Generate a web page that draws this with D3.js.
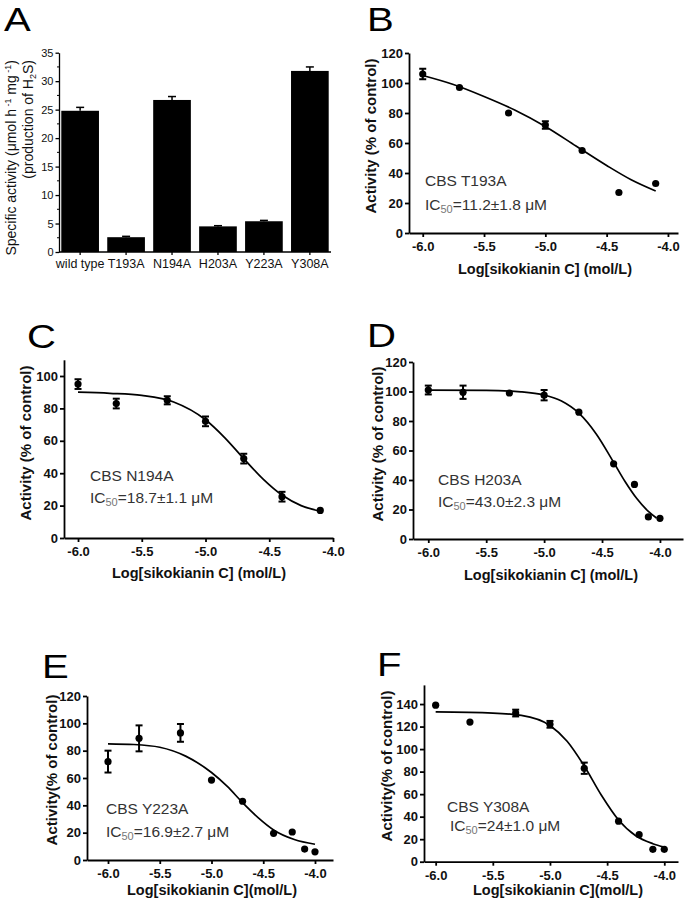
<!DOCTYPE html>
<html><head><meta charset="utf-8">
<script src="https://cdn.jsdelivr.net/npm/d3@7"></script>
<style>
body{margin:0;background:#fff}
svg{display:block}
text{font-family:"Liberation Sans",Arial,Helvetica,sans-serif}
</style>
</head><body>
<svg id="chart" width="690" height="905"></svg>
<script>
// ---------------- DATA ----------------
// Panel A (bar chart)
const barCategories = ["wild type", "T193A", "N194A", "H203A", "Y223A", "Y308A"];
const barValues = [24.8, 2.6, 26.7, 4.5, 5.4, 31.8];
const barErrors = [0.6, 0.15, 0.6, 0.12, 0.15, 0.7];
const barTicks = [0, 5, 10, 15, 20, 25, 30, 35];

// Shared x ticks for dose-response panels
const doseTicks = [-6.0, -5.5, -5.0, -4.5, -4.0];

// Panel B  CBS T193A
const bDose = [-6.0, -5.7, -5.3, -5.0, -4.7, -4.4, -4.1];
const bActivity = [106, 97, 80, 72, 55, 27, 33];
const bSem = [3.5, 0, 0, 2.5, 0, 0, 0];
const bFitDose = [-6.0, -5.75, -5.5, -5.25, -5.0, -4.75, -4.5, -4.3, -4.1];
const bFitActivity = [105, 99, 91, 82, 71, 58, 45, 35.5, 28];
const bYTicks = [0, 20, 40, 60, 80, 100, 120];

// Panel C  CBS N194A
const cDose = [-6.0, -5.7, -5.3, -5.0, -4.7, -4.4, -4.1];
const cActivity = [95, 83, 85, 72, 49, 25.5, 17];
const cSem = [3, 3, 2.5, 3, 3, 3, 0];
const cFitDose = [-6.0, -5.75, -5.5, -5.25, -5.0, -4.85, -4.7, -4.55, -4.4, -4.25, -4.1];
const cFitActivity = [90, 89.3, 88, 84, 73, 62, 49, 36.5, 26.5, 20, 16.5];
const cYTicks = [0, 20, 40, 60, 80, 100];

// Panel D  CBS H203A
const dDose = [-6.0, -5.7, -5.3, -5.0, -4.7, -4.4, -4.22, -4.1, -4.0];
const dActivity = [101, 99.5, 99, 97.5, 86, 51, 37, 15, 14];
const dSem = [3, 4.5, 0, 3.5, 0, 0, 0, 0, 0];
const dFitDose = [-6.0, -5.5, -5.2, -5.0, -4.85, -4.7, -4.55, -4.4, -4.3, -4.2, -4.1, -4.03];
const dFitActivity = [101, 100.8, 99.8, 97.6, 93.5, 85.3, 71.2, 52, 38.8, 27.4, 18.7, 14.2];
const dYTicks = [0, 20, 40, 60, 80, 100, 120];

// Panel E  CBS Y223A
const eDose = [-6.0, -5.7, -5.3, -5.0, -4.7, -4.4, -4.22, -4.1, -4.0];
const eActivity = [72, 89, 93, 58.5, 43, 19.5, 20.5, 8, 6];
const eSem = [8, 9.5, 6.5, 0, 0, 0, 0, 0, 0];
const eFitDose = [-6.0, -5.75, -5.5, -5.25, -5.0, -4.85, -4.7, -4.55, -4.4, -4.2, -4.0];
const eFitActivity = [85, 84.5, 82.5, 76, 64, 54, 42, 31, 22, 15, 11.5];
const eYTicks = [0, 20, 40, 60, 80, 100, 120];

// Panel F  CBS Y308A
const fDose = [-6.0, -5.7, -5.3, -5.0, -4.7, -4.4, -4.22, -4.1, -4.0];
const fActivity = [139, 124, 132, 122, 83, 36, 24, 11, 11];
const fSem = [0, 0, 3, 3, 5, 0, 0, 0, 0];
const fFitDose = [-6.0, -5.5, -5.25, -5.0, -4.85, -4.7, -4.55, -4.4, -4.25, -4.1, -4.0];
const fFitActivity = [133, 132, 130, 121, 107, 85, 59, 37, 23, 16, 13];
const fYTicks = [0, 20, 40, 60, 80, 100, 120, 140];

// ---------------- LAYOUT ----------------
const FONT = '"Liberation Sans",Arial,Helvetica,sans-serif';
const svg = d3.select("#chart");
svg.append("rect").attr("width", 690).attr("height", 905).attr("fill", "#fff");

function letter(t, x, y) {
  svg.append("text")
    .attr("transform", `translate(${x},${y}) scale(1.18,1)`)
    .attr("font-size", 34).attr("fill", "#000").text(t);
}

// ---------- Panel A ----------
(function () {
  const L = { left: 59, right: 331, top: 52.7, bottom: 252 };
  const g = svg.append("g");
  const x = d3.scaleBand().domain(barCategories).range([L.left, L.right])
    .paddingInner(0.18).paddingOuter(0.05);
  const y = d3.scaleLinear().domain([0, 35]).range([L.bottom, L.top]);

  g.selectAll("rect.bar").data(barCategories).join("rect")
    .attr("class", "bar")
    .attr("x", d => x(d)).attr("width", x.bandwidth())
    .attr("y", (d, i) => y(barValues[i]))
    .attr("height", (d, i) => y(0) - y(barValues[i]))
    .attr("fill", "#000");

  // error bars (upper)
  barCategories.forEach((c, i) => {
    const cx = x(c) + x.bandwidth() / 2;
    const top = y(barValues[i] + barErrors[i]);
    g.append("line").attr("x1", cx).attr("x2", cx).attr("y1", y(barValues[i])).attr("y2", top)
      .attr("stroke", "#000").attr("stroke-width", 1.5);
    g.append("line").attr("x1", cx - 4).attr("x2", cx + 4).attr("y1", top).attr("y2", top)
      .attr("stroke", "#000").attr("stroke-width", 1.5);
  });

  // minor ticks
  const minor = barTicks.slice(0, -1).map(v => v + 2.5);
  g.selectAll("line.minor").data(minor).join("line")
    .attr("x1", L.left - 2).attr("x2", L.left).attr("y1", d => y(d)).attr("y2", d => y(d))
    .attr("stroke", "#000").attr("stroke-width", 1);

  const ya = g.append("g").attr("transform", `translate(${L.left},0)`)
    .call(d3.axisLeft(y).tickValues(barTicks).tickSize(3.5).tickPadding(2).tickSizeOuter(0));
  ya.selectAll("text").attr("font-size", 11).attr("font-family", FONT).attr("fill", "#111");
  ya.selectAll("line,path").attr("stroke", "#000").attr("stroke-width", 1.3);

  const xa = g.append("g").attr("transform", `translate(0,${L.bottom})`)
    .call(d3.axisBottom(x).tickSize(3).tickPadding(4).tickSizeOuter(0));
  xa.selectAll("text").attr("font-size", 12.5).attr("font-family", FONT).attr("fill", "#111");
  xa.selectAll("line,path").attr("stroke", "#000").attr("stroke-width", 1.3);
  xa.select("path").attr("d", `M${L.left},0H${L.right}`);

  // y title (two lines)
  const t1 = g.append("text").attr("transform", "translate(16,60) rotate(-90)")
    .attr("text-anchor", "end").attr("font-size", 14).attr("fill", "#111");
  t1.append("tspan").text("Specific activity (μmol h");
  t1.append("tspan").attr("dy", -5).attr("font-size", 9).text(" -1");
  t1.append("tspan").attr("dy", 5).text(" mg");
  t1.append("tspan").attr("dy", -5).attr("font-size", 9).text(" -1");
  t1.append("tspan").attr("dy", 5).text(")");
  const t2 = g.append("text").attr("transform", "translate(33,60) rotate(-90)")
    .attr("text-anchor", "end").attr("font-size", 14).attr("fill", "#111");
  t2.append("tspan").text("(production of H");
  t2.append("tspan").attr("dy", 3).attr("font-size", 9).text("2");
  t2.append("tspan").attr("dy", -3).text("S)");

  letter("A", 4, 31);
})();

// ---------- Dose-response panels ----------
const panels = [
  { letter: "B", lx: 367, ly: 31, dose: bDose, act: bActivity, sem: bSem, fx: bFitDose, fy: bFitActivity, yTicks: bYTicks,
    xDomain: [-6.112, -3.918], xRange: [409, 678], yDomain: [0, 120], yRange: [233, 53],
    xTitle: "Log[sikokianin C] (mol/L)", xtx: 545, xty: 274, yTitle: "Activity (% of control)", ytx: 376, yty: 136,
    name: "CBS T193A", ic: "=11.2±1.8 μM", nx: 425, ny: 186, ix: 425, iy: 210 },
  { letter: "C", lx: 27, ly: 348, dose: cDose, act: cActivity, sem: cSem, fx: cFitDose, fy: cFitActivity, yTicks: cYTicks,
    xDomain: [-6.11, -4.0], xRange: [64, 333], yDomain: [0, 110], yRange: [538, 359.8],
    xTitle: "Log[sikokianin C] (mol/L)", xtx: 199, xty: 578, yTitle: "Activity (% of control)", ytx: 31, yty: 443,
    name: "CBS N194A", ic: "=18.7±1.1 μM", nx: 90, ny: 481, ix: 90, iy: 503 },
  { letter: "D", lx: 367, ly: 347, dose: dDose, act: dActivity, sem: dSem, fx: dFitDose, fy: dFitActivity, yTicks: dYTicks,
    xDomain: [-6.132, -3.801], xRange: [413, 683], yDomain: [0, 120], yRange: [539, 362],
    xTitle: "Log[sikokianin C] (mol/L)", xtx: 551, xty: 580, yTitle: "Activity (% of control)", ytx: 383, yty: 444,
    name: "CBS H203A", ic: "=43.0±2.3 μM", nx: 438, ny: 485, ix: 438, iy: 507 },
  { letter: "E", lx: 42, ly: 678, dose: eDose, act: eActivity, sem: eSem, fx: eFitDose, fy: eFitActivity, yTicks: eYTicks,
    xDomain: [-6.203, -3.826], xRange: [87, 333], yDomain: [0, 120], yRange: [860, 696],
    xTitle: "Log[sikokianin C](mol/L)", xtx: 212, xty: 895, yTitle: "Activity(% of control)", ytx: 57, yty: 770,
    name: "CBS Y223A", ic: "=16.9±2.7 μM", nx: 106, ny: 814, ix: 106, iy: 837 },
  { letter: "F", lx: 377, ly: 676, dose: fDose, act: fActivity, sem: fSem, fx: fFitDose, fy: fFitActivity, yTicks: fYTicks,
    xDomain: [-6.102, -3.88], xRange: [424, 678], yDomain: [0, 157], yRange: [861.7, 684.9],
    xTitle: "Log[sikokianin C](mol/L)", xtx: 558, xty: 895, yTitle: "Activity(% of control)", ytx: 392, yty: 766,
    name: "CBS Y308A", ic: "=24±1.0 μM", nx: 447, ny: 812, ix: 450, iy: 831 }
];

panels.forEach(p => {
  const g = svg.append("g");
  const x = d3.scaleLinear().domain(p.xDomain).range(p.xRange);
  const y = d3.scaleLinear().domain(p.yDomain).range(p.yRange);

  const xa = g.append("g").attr("transform", `translate(0,${p.yRange[0]})`)
    .call(d3.axisBottom(x).tickValues(doseTicks).tickFormat(d => d.toFixed(1))
      .tickSize(4).tickPadding(5).tickSizeOuter(0));
  const ya = g.append("g").attr("transform", `translate(${p.xRange[0]},0)`)
    .call(d3.axisLeft(y).tickValues(p.yTicks).tickFormat(d3.format("d"))
      .tickSize(4).tickPadding(2).tickSizeOuter(0));
  [xa, ya].forEach(a => {
    a.selectAll("text").attr("font-size", 13).attr("font-weight", "bold")
      .attr("font-family", FONT).attr("fill", "#111");
    a.selectAll("line,path").attr("stroke", "#000").attr("stroke-width", 1.8);
  });

  // fitted curve
  const line = d3.line().x(d => x(d[0])).y(d => y(d[1])).curve(d3.curveMonotoneX);
  g.append("path").datum(p.fx.map((v, i) => [v, p.fy[i]]))
    .attr("d", line).attr("fill", "none").attr("stroke", "#000").attr("stroke-width", 1.7);

  // error bars
  p.dose.forEach((d, i) => {
    if (p.sem[i] > 0) {
      const cx = x(d), y1 = y(p.act[i] - p.sem[i]), y2 = y(p.act[i] + p.sem[i]);
      g.append("line").attr("x1", cx).attr("x2", cx).attr("y1", y1).attr("y2", y2)
        .attr("stroke", "#000").attr("stroke-width", 2);
      [y1, y2].forEach(yy => g.append("line").attr("x1", cx - 3.5).attr("x2", cx + 3.5)
        .attr("y1", yy).attr("y2", yy).attr("stroke", "#000").attr("stroke-width", 2));
    }
  });
  // points
  g.selectAll("circle").data(p.dose).join("circle")
    .attr("cx", d => x(d)).attr("cy", (d, i) => y(p.act[i])).attr("r", 3.6).attr("fill", "#000");

  // titles
  g.append("text").attr("x", p.xtx).attr("y", p.xty).attr("text-anchor", "middle")
    .attr("font-size", 14.5).attr("font-weight", "bold").attr("fill", "#111").text(p.xTitle);
  g.append("text").attr("transform", `translate(${p.ytx},${p.yty}) rotate(-90)`).attr("text-anchor", "middle")
    .attr("font-size", 15).attr("font-weight", "bold").attr("fill", "#111").text(p.yTitle);

  // annotations
  g.append("text").attr("x", p.nx).attr("y", p.ny).attr("font-size", 15.5).attr("fill", "#333").text(p.name);
  const ic = g.append("text").attr("x", p.ix).attr("y", p.iy).attr("font-size", 15.5).attr("fill", "#333");
  ic.append("tspan").text("IC");
  ic.append("tspan").attr("dy", 3).attr("font-size", 11).attr("fill", "#777").text("50");
  ic.append("tspan").attr("dy", -3).text(p.ic);

  letter(p.letter, p.lx, p.ly);
});
</script>
</body></html>
